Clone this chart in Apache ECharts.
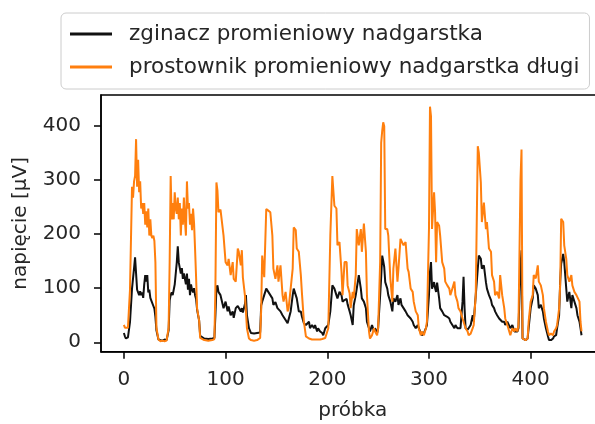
<!DOCTYPE html>
<html><head><meta charset="utf-8">
<script src="https://cdn.jsdelivr.net/npm/echarts@6/dist/echarts.min.js"></script>
<style>html,body{margin:0;padding:0;background:#fff}#c{width:595px;height:424px}</style>
</head><body><div id="c"></div>
<script>
const sampleIdx=[0,1,2,4,6,8,9,10,11,12,13,14,15,16,17,18,19,20,21,22,23,24,25,26,27,28,29,30,31,32,34,36,38,40,42,44,45,46,47,48,49,50,51,52,53,54,55,56,57,58,59,60,61,62,63,64,65,66,67,68,69,70,71,72,74,75,79,83,87,89,90,91,92,93,95,96,98,100,102,103,105,107,108,110,112,113,115,116,117,119,120,121,123,125,128,131,134,135,136,138,140,142,144,146,147,149,151,152,154,156,157,159,161,162,164,166,167,169,170,172,174,175,177,179,182,183,185,187,188,190,191,193,195,196,198,201,203,205,207,209,210,212,214,215,217,219,220,222,223,225,226,228,229,231,233,234,236,238,239,241,242,244,246,247,249,250,252,253,254,255,256,257,259,260,262,264,265,267,269,270,272,273,275,277,279,280,282,284,285,287,289,290,292,293,295,297,298,300,301,302,303,305,306,307,308,310,311,313,315,316,318,320,321,323,325,326,328,329,331,333,334,335,336,338,339,341,343,344,346,348,349,351,352,354,356,357,359,361,362,364,365,367,369,370,372,374,375,377,378,380,382,384,385,387,388,390,391,392,393,395,397,398,400,402,403,405,407,408,410,412,413,415,417,418,420,422,423,425,426,428,429,430,432,433,435,436,438,440,441,443,445,446,448,449,450];
const flexorUV=[17,11,7,9,37,99,102,137,157,127,97,92,87,94,87,92,82,107,124,112,124,92,97,82,77,75,67,62,47,22,5,4,3,5,4,22,77,87,92,87,97,107,127,147,177,147,137,127,137,117,127,117,107,127,97,117,87,107,97,92,100,87,80,60,40,12,7,6,7,8,50,100,105,93,87,85,63,75,57,66,50,57,45,63,67,69,57,63,55,70,87,50,26,17,16,17,18,68,75,87,99,93,87,81,69,74,63,63,57,50,48,41,35,32,57,87,99,87,81,57,57,48,35,32,38,26,32,26,32,20,26,20,17,13,26,32,57,105,99,87,81,93,87,75,78,80,70,57,50,32,68,87,99,124,99,81,75,63,38,26,20,32,20,26,17,26,87,120,160,150,139,111,99,87,75,57,81,75,87,69,81,69,63,57,50,48,44,38,32,26,32,26,17,13,17,26,32,87,130,148,99,111,100,93,110,81,63,57,50,50,47,44,38,32,26,32,26,23,26,75,121,63,26,23,26,32,50,38,87,136,160,154,136,142,111,99,87,78,69,63,57,50,44,47,38,38,32,38,35,26,32,20,23,20,26,140,170,7,4,4,7,26,63,81,105,99,87,63,69,57,44,26,11,4,4,7,11,13,26,50,112,145,163,148,99,75,93,63,87,75,63,50,38,26,13];
const extensorUV=[32,27,25,27,97,287,267,297,307,375,287,337,277,297,247,257,237,257,217,242,212,247,197,227,197,192,197,187,147,27,5,2,3,2,3,27,147,307,227,257,227,277,247,237,267,227,257,197,247,217,267,227,197,297,247,257,217,237,207,247,220,172,120,62,40,8,4,3,4,6,100,295,280,240,245,242,197,148,142,154,124,148,117,112,173,167,142,170,120,87,57,26,7,4,3,4,8,60,160,120,246,243,240,197,136,117,142,112,142,87,75,93,57,63,99,136,212,207,173,167,124,93,38,11,7,6,5,5,6,5,6,5,6,7,8,26,197,307,252,247,179,185,130,87,148,148,105,90,63,93,81,124,209,179,209,167,219,167,87,20,7,13,26,20,13,26,148,368,390,406,399,209,209,197,118,75,136,173,112,136,191,191,179,185,136,130,99,93,75,57,50,26,13,20,13,26,38,209,435,417,209,277,240,148,222,215,197,148,136,112,105,99,87,99,112,87,75,63,57,44,38,36,26,20,13,16,26,32,87,362,350,295,222,258,209,222,173,167,124,112,87,93,81,124,87,63,44,32,26,13,26,20,26,20,32,300,356,7,4,4,7,38,75,87,124,118,142,112,105,87,63,38,20,13,16,13,20,26,32,63,105,228,222,179,154,124,112,124,105,93,87,87,75,38,20];
const xTicks=[0,100,200,300,400];
const yTicks=[0,100,200,300,400];
const seriesNames=['zginacz promieniowy nadgarstka','prostownik promieniowy nadgarstka długi'];
const seriesColors=['#111111','#ff7f0e'];
const pairs=v=>sampleIdx.map((x,i)=>[x,v[i]]);
const font='DejaVu Sans';
const txt='#262626';
const chart=echarts.init(document.getElementById('c'),null,{renderer:'canvas'});
chart.setOption({
  animation:false,
  grid:{left:101,top:95,width:503.4,height:256.7,outerBoundsMode:'none',containLabel:false,show:true,borderColor:'#000',borderWidth:1.5,backgroundColor:'transparent'},
  xAxis:{type:'value',min:-22.5,max:472.5,
    axisLine:{show:true,onZero:false,lineStyle:{color:'#000',width:1.5}},
    axisTick:{show:true,length:7,inside:false,customValues:xTicks,lineStyle:{color:'#000',width:1.5}},
    axisLabel:{customValues:xTicks,margin:18,fontSize:20,color:txt,fontFamily:font},
    splitLine:{show:false},
    name:'próbka',nameLocation:'middle',nameGap:49,nameTextStyle:{fontSize:20,color:txt,fontFamily:font}},
  yAxis:{type:'value',min:-17.4,max:456.5,
    axisLine:{show:true,onZero:false,lineStyle:{color:'#000',width:1.5}},
    axisTick:{show:true,length:7,inside:false,customValues:yTicks,lineStyle:{color:'#000',width:1.5}},
    axisLabel:{customValues:yTicks,margin:20,fontSize:20,color:txt,fontFamily:font},
    splitLine:{show:false},
    name:'napięcie [µV]',nameLocation:'middle',nameGap:70,nameTextStyle:{fontSize:20,color:txt,fontFamily:font}},
  legend:{orient:'vertical',left:61,top:13,padding:[10,10,11,9],itemGap:11,itemWidth:42,itemHeight:3,icon:'rect',
    textStyle:{fontSize:21.5,fontFamily:font,color:txt,padding:[0,0,0,12]},
    borderColor:'#cccccc',borderWidth:1,borderRadius:5,backgroundColor:'rgba(255,255,255,0.8)',data:seriesNames},
  series:[
    {name:seriesNames[0],type:'line',data:pairs(flexorUV),showSymbol:false,symbol:'none',lineStyle:{color:seriesColors[0],width:2},itemStyle:{color:seriesColors[0]}},
    {name:seriesNames[1],type:'line',data:pairs(extensorUV),showSymbol:false,symbol:'none',lineStyle:{color:seriesColors[1],width:2},itemStyle:{color:seriesColors[1]}}
  ]
});
</script>
</body></html>
